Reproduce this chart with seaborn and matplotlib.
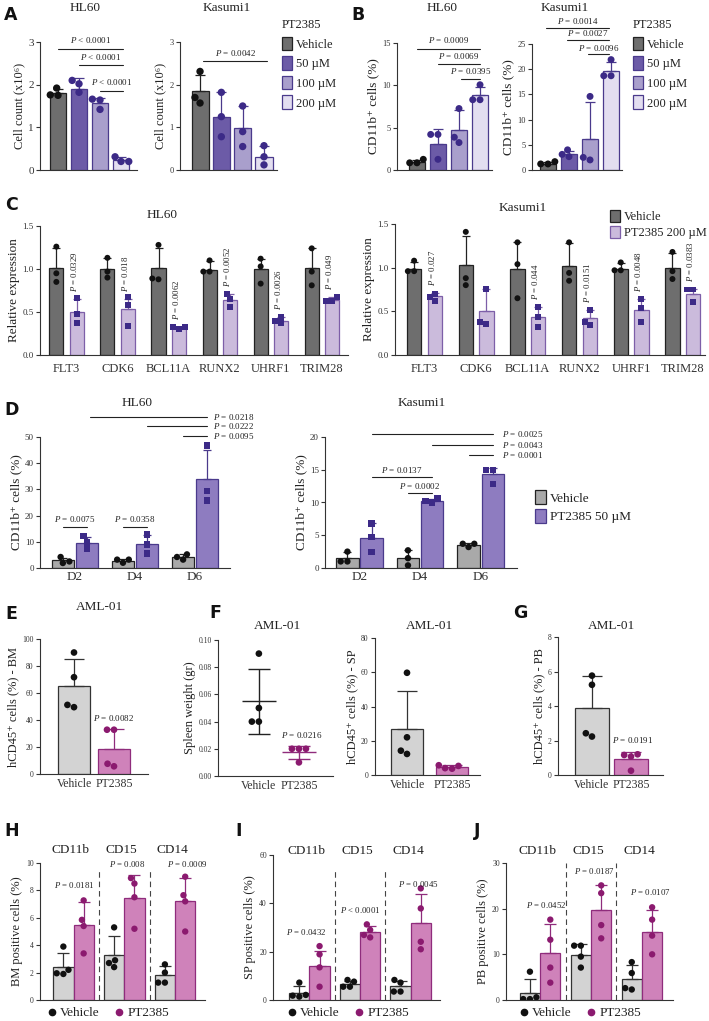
import matplotlib
matplotlib.use("Agg")
import matplotlib.pyplot as plt
import numpy as np
import pandas as pd
import seaborn as sns
from matplotlib.patches import Patch
from matplotlib.lines import Line2D

# ---------------- data ----------------
DOSES = ["Vehicle", "50 µM", "100 µM", "200 µM"]
A_HL60_MEAN = [1.80, 1.90, 1.57, 0.24]
A_HL60_SD = [0.09, 0.26, 0.12, 0.06]
A_HL60_PTS = [[1.92, 1.76, 1.75], [2.10, 2.02, 1.82], [1.66, 1.64, 1.42], [0.31, 0.20, 0.20]]
A_KAS_MEAN = [1.86, 1.25, 0.98, 0.30]
A_KAS_SD = [0.37, 0.57, 0.52, 0.27]
A_KAS_PTS = [[2.31, 1.70, 1.57], [1.82, 1.25, 0.78], [1.50, 0.90, 0.55], [0.57, 0.31, 0.12]]

B_HL60_MEAN = [0.95, 3.1, 4.7, 8.8]
B_HL60_SD = [0.2, 1.75, 2.4, 1.0]
B_HL60_PTS = [[1.26, 0.85, 0.85], [4.2, 4.2, 1.26], [7.26, 3.87, 3.24], [10.07, 8.3, 8.3]]
B_KAS_MEAN = [1.25, 3.2, 6.2, 19.7]
B_KAS_SD = [0.25, 0.65, 7.2, 1.7]
B_KAS_PTS = [[1.66, 1.2, 1.2], [4.0, 3.1, 2.65], [14.6, 2.0, 2.5], [21.9, 18.7, 18.7]]

GENES = ["FLT3", "CDK6", "BCL11A", "RUNX2", "UHRF1", "TRIM28"]
C_HUES = ["Vehicle", "PT2385 200 µM"]
C_HL60_VEH_MEAN = [1.01, 1.00, 1.01, 0.99, 1.00, 1.01]
C_HL60_VEH_SD = [0.23, 0.13, 0.23, 0.10, 0.12, 0.23]
C_HL60_VEH_PTS = [[1.26, 0.95, 0.85], [1.13, 0.90, 0.97], [1.28, 0.88, 0.89],
                  [1.10, 0.97, 0.97], [1.12, 1.03, 0.83], [1.24, 0.97, 0.81]]
C_HL60_PT_MEAN = [0.50, 0.53, 0.31, 0.64, 0.40, 0.64]
C_HL60_PT_SD = [0.15, 0.12, 0.02, 0.07, 0.04, 0.03]
C_HL60_PT_PTS = [[0.66, 0.48, 0.37], [0.67, 0.58, 0.34], [0.30, 0.32, 0.32],
                 [0.71, 0.65, 0.56], [0.44, 0.37, 0.39], [0.68, 0.63, 0.63]]
C_HL60_P = ["= 0.0329", "= 0.018", "= 0.0062", "= 0.0052", "= 0.0026", "= 0.049"]
C_KAS_VEH_MEAN = [0.99, 1.03, 0.99, 1.02, 0.98, 1.00]
C_KAS_VEH_SD = [0.07, 0.33, 0.30, 0.26, 0.07, 0.17]
C_KAS_VEH_PTS = [[1.08, 0.96, 0.96], [1.41, 0.88, 0.80], [1.29, 1.04, 0.65],
                 [1.29, 0.94, 0.85], [1.06, 0.97, 0.97], [1.18, 0.96, 0.87]]
C_KAS_PT_MEAN = [0.67, 0.50, 0.43, 0.42, 0.52, 0.70]
C_KAS_PT_SD = [0.04, 0.25, 0.12, 0.10, 0.12, 0.06]
C_KAS_PT_PTS = [[0.70, 0.62, 0.66], [0.76, 0.36, 0.38], [0.55, 0.43, 0.32],
                [0.52, 0.34, 0.38], [0.64, 0.54, 0.38], [0.75, 0.75, 0.61]]
C_KAS_P = ["= 0.027", "", "= 0.044", "= 0.0151", "= 0.0048", "= 0.0383"]

DAYS = ["D2", "D4", "D6"]
D_HUES = ["Vehicle", "PT2385 50 µM"]
D_HL60_VEH_MEAN = [3.0, 2.8, 4.3]
D_HL60_VEH_SD = [0.9, 0.6, 1.1]
D_HL60_VEH_PTS = [[4.2, 1.9, 2.5], [2.0, 3.2, 3.2], [5.2, 3.2, 4.2]]
D_HL60_PT_MEAN = [9.5, 9.0, 33.8]
D_HL60_PT_SD = [2.4, 3.7, 11.3]
D_HL60_PT_PTS = [[12.1, 10.0, 7.4], [12.8, 9.0, 5.5], [46.8, 29.3, 25.8]]
D_KAS_VEH_MEAN = [1.5, 1.5, 3.5]
D_KAS_VEH_SD = [0.9, 1.2, 0.25]
D_KAS_VEH_PTS = [[2.5, 1.0, 1.0], [2.7, 1.5, 0.4], [3.7, 3.7, 3.2]]
D_KAS_PT_MEAN = [4.6, 10.2, 14.3]
D_KAS_PT_SD = [2.2, 0.3, 1.0]
D_KAS_PT_PTS = [[6.8, 4.7, 2.4], [10.6, 10.0, 10.2], [15.0, 15.0, 12.8]]

ARMS = ["Vehicle", "PT2385"]
E_MEAN = [65.5, 18.7]
E_SD = [19.5, 15.0]
E_PTS = [[90.0, 71.7, 49.5, 51.2], [32.8, 32.8, 5.7, 7.6]]
F1_MEAN = [0.055, 0.0175]
F1_SD = [0.024, 0.0047]
F1_PTS = [[0.090, 0.050, 0.040, 0.040], [0.020, 0.020, 0.020, 0.010]]
F2_MEAN = [26.7, 4.6]
F2_SD = [22.1, 1.0]
F2_PTS = [[59.7, 22.0, 14.2, 12.3], [5.7, 5.3, 4.0, 3.7]]
G_MEAN = [3.88, 0.91]
G_SD = [1.84, 0.42]
G_PTS = [[5.76, 5.23, 2.23, 2.42], [1.20, 1.16, 1.07, 0.25]]

MARKERS = ["CD11b", "CD15", "CD14"]
H_VEH_MEAN = [2.4, 3.3, 1.83]
H_VEH_SD = [1.0, 1.4, 0.67]
H_VEH_PTS = [[3.9, 2.2, 1.9, 1.95], [5.3, 2.9, 2.4, 2.7], [2.6, 2.0, 1.27, 1.27]]
H_PT_MEAN = [5.5, 7.45, 7.2]
H_PT_SD = [1.65, 1.7, 1.7]
H_PT_PTS = [[7.27, 5.85, 5.4, 3.4], [8.9, 8.5, 7.5, 5.2], [9.0, 7.65, 7.2, 5.0]]
H_P = ["= 0.0181", "= 0.008", "= 0.0009"]
I_VEH_MEAN = [3.0, 6.5, 5.9]
I_VEH_SD = [2.8, 1.4, 2.0]
I_VEH_PTS = [[7.2, 1.8, 1.4, 2.1], [8.3, 7.6, 5.5, 5.5], [8.3, 7.2, 3.5, 3.5]]
I_PT_MEAN = [14.1, 28.3, 32.0]
I_PT_SD = [6.2, 2.3, 12.0]
I_PT_PTS = [[22.3, 18.9, 13.5, 5.5], [31.3, 29.0, 26.9, 25.9], [46.2, 37.9, 24.1, 21.0]]
I_P = ["= 0.0432", "< 0.0001", "= 0.0045"]
J_VEH_MEAN = [1.6, 9.9, 4.6]
J_VEH_SD = [3.1, 2.4, 3.1]
J_VEH_PTS = [[6.2, 0.2, 0.6, 0.2], [11.9, 11.9, 9.5, 7.1], [8.3, 5.9, 2.3, 2.6]]
J_PT_MEAN = [10.2, 19.6, 14.9]
J_PT_SD = [6.4, 5.5, 4.9]
J_PT_PTS = [[17.6, 13.2, 7.1, 3.8], [25.1, 23.4, 16.4, 13.5], [20.3, 17.6, 14.1, 10.0]]
J_P = ["= 0.0452", "= 0.0187", "= 0.0107"]

# ---------------- style ----------------
sns.set_theme(style="ticks")
plt.rcParams["font.family"] = ["Liberation Serif", "DejaVu Serif"]
plt.rcParams["mathtext.fontset"] = "custom"
plt.rcParams["mathtext.rm"] = "Liberation Serif"
plt.rcParams["mathtext.it"] = "Liberation Serif:italic"
plt.rcParams["axes.linewidth"] = 0.8
plt.rcParams["axes.edgecolor"] = "#333333"
plt.rcParams["text.color"] = "#222222"
plt.rcParams["axes.labelcolor"] = "#222222"
plt.rcParams["xtick.color"] = "#333333"
plt.rcParams["ytick.color"] = "#333333"

W, H = 709, 1021
fig = plt.figure(figsize=(W / 100, H / 100), dpi=100)

GRAY_D = "#6e6e6e"
PURP = ["#6c5ba7", "#a99fcc", "#e3def0"]
PEDGE = "#4a3a8c"
PPT = "#3c2a87"
C_PT = "#cbbbdc"
C_PTE = "#7d5fa8"
D_VEH = "#a9a9a9"
D_PT = "#8e7cc0"
L_VEH = "#d3d3d3"
PINK = "#cf82ba"
PINKE = "#8f2c7c"
PINKPT = "#8b1a6f"


def P(s):
    return r"$\mathit{P}$ " + s


def add_ax(x0, x1, ytop, ybot):
    return fig.add_axes([x0 / W, 1 - ybot / H, (x1 - x0) / W, (ybot - ytop) / H])


def style_ax(ax, ylim, yticks, xlim, ylabel, yfs=6.5, lfs=9, fmt=None):
    sns.despine(ax=ax)
    ax.set_ylim(*ylim)
    ax.set_yticks(yticks)
    if fmt:
        ax.set_yticklabels([fmt % t for t in yticks])
    ax.set_xlim(*xlim)
    ax.tick_params(axis="y", labelsize=yfs, length=3, width=0.8, pad=1.5)
    ax.tick_params(axis="x", length=0)
    ax.set_xlabel("")
    ax.set_ylabel(ylabel, fontsize=lfs, labelpad=2)


def bar_panel(ax, cats, means, sds, pts, fills, edges, ptcols, width=0.8, size=4.0,
              capsize=3.5, lw=0.9):
    df = pd.DataFrame({"cat": cats, "mean": means})
    sns.barplot(data=df, x="cat", y="mean", hue="cat", order=cats, hue_order=cats,
                palette=fills, width=width, errorbar=None, legend=False,
                saturation=1, linewidth=lw, ax=ax)
    bars = sorted(ax.patches, key=lambda p: p.get_x())
    for b, e, m, s in zip(bars, edges, means, sds):
        b.set_edgecolor(e)
        cx = b.get_x() + b.get_width() / 2
        ax.errorbar([cx], [m], yerr=[[0], [s]], fmt="none", ecolor=e, elinewidth=lw,
                    capsize=capsize, capthick=lw, zorder=2)
    rows = [(c, v) for c, vals in zip(cats, pts) for v in vals]
    pdf = pd.DataFrame(rows, columns=["cat", "val"])
    sns.swarmplot(data=pdf, x="cat", y="val", hue="cat", order=cats, hue_order=cats,
                  palette=ptcols, size=size, legend=False, ax=ax, zorder=3)


def grouped_panel(ax, groups, hues, means, sds, pts, fills, edges, ptcols, markers,
                  gap, size=4.0, capsize=3.0, lw=0.9):
    rows = [(g, h, means[hi][gi]) for hi, h in enumerate(hues) for gi, g in enumerate(groups)]
    df = pd.DataFrame(rows, columns=["g", "h", "m"])
    sns.barplot(data=df, x="g", y="m", hue="h", order=groups, hue_order=hues,
                palette=dict(zip(hues, fills)), width=0.8, gap=gap, dodge=True,
                errorbar=None, legend=False, saturation=1, linewidth=lw, ax=ax)
    bars = sorted(ax.patches, key=lambda p: p.get_x())
    k = 0
    for gi in range(len(groups)):
        for hi in range(len(hues)):
            b = bars[k]
            k += 1
            b.set_edgecolor(edges[hi])
            cx = b.get_x() + b.get_width() / 2
            ax.errorbar([cx], [means[hi][gi]], yerr=[[0], [sds[hi][gi]]], fmt="none",
                        ecolor=edges[hi], elinewidth=lw, capsize=capsize, capthick=lw,
                        zorder=2)
    for hi, h in enumerate(hues):
        r = [(g, h, v) for gi, g in enumerate(groups) for v in pts[hi][gi]]
        pdf = pd.DataFrame(r, columns=["g", "h", "v"])
        sns.swarmplot(data=pdf, x="g", y="v", hue="h", order=groups, hue_order=hues,
                      dodge=True, palette=dict(zip(hues, ptcols)), marker=markers[hi],
                      size=size, legend=False, ax=ax, zorder=3)


def sig(ax, x0, x1, y, text, ty, fs=6.5):
    ax.plot([x0, x1], [y, y], color="#222222", lw=0.8, clip_on=False)
    ax.text((x0 + x1) / 2, ty, text, ha="center", va="center", fontsize=fs, clip_on=False)


def sig_right(ax, x0, x1, y, text, tx, fs=6.5):
    ax.plot([x0, x1], [y, y], color="#222222", lw=0.8, clip_on=False)
    ax.text(tx, y, text, ha="left", va="center", fontsize=fs, clip_on=False)


def ftext(x, y, s, **kw):
    fig.text(x / W, 1 - y / H, s, **kw)


def patch_legend(ax, labels, fills, edges, x, y, title=None, fs=9, hl=0.8, hh=1.3, ls=0.25):
    handles = [Patch(facecolor=f, edgecolor=e, linewidth=0.9) for f, e in zip(fills, edges)]
    leg = ax.legend(handles, labels, loc="upper left", bbox_to_anchor=(x / W, 1 - y / H),
                    bbox_transform=fig.transFigure, frameon=False, fontsize=fs,
                    title=title, title_fontsize=fs, handlelength=hl, handleheight=hh,
                    labelspacing=ls, handletextpad=0.3, borderpad=0, borderaxespad=0)
    leg._legend_box.align = "left"
    return leg


def dot_legend(ax, x, y, fs=9.5):
    handles = [Line2D([], [], marker="o", ls="", color="#111111", ms=4.5),
               Line2D([], [], marker="o", ls="", color=PINKPT, ms=4.5)]
    ax.legend(handles, ARMS, loc="center left", bbox_to_anchor=(x / W, 1 - y / H),
              bbox_transform=fig.transFigure, frameon=False, fontsize=fs, ncol=2,
              handlelength=0.6, handletextpad=0.3, columnspacing=1.2, borderpad=0,
              borderaxespad=0)


LETTER = dict(fontfamily="DejaVu Sans", fontweight="bold", fontsize=12.5, ha="center",
              va="center", color="#111111")
TITLE = dict(fontsize=9.5, ha="center", va="center")

DOSE_FILLS = [GRAY_D] + PURP
DOSE_EDGES = ["#222222", PEDGE, PEDGE, PEDGE]
DOSE_PTS = ["#111111", PPT, PPT, PPT]

# ---------------- Panel A ----------------
axA1 = add_ax(40, 137, 42, 170)
bar_panel(axA1, DOSES, A_HL60_MEAN, A_HL60_SD, A_HL60_PTS, DOSE_FILLS, DOSE_EDGES, DOSE_PTS, size=5.3)
style_ax(axA1, (0, 3), [0, 1, 2, 3], (-0.857, 3.76), "Cell count (x10⁶)", yfs=8)
axA1.set_xticks([])
sig(axA1, 0, 3.1, 2.84, P("< 0.0001"), 3.05)
sig(axA1, 1, 3.1, 2.46, P("< 0.0001"), 2.65)
sig(axA1, 2, 3.1, 1.85, P("< 0.0001"), 2.06)

axA2 = add_ax(180, 277, 42, 170)
bar_panel(axA2, DOSES, A_KAS_MEAN, A_KAS_SD, A_KAS_PTS, DOSE_FILLS, DOSE_EDGES, DOSE_PTS, size=5.3)
style_ax(axA2, (0, 3), [0, 1, 2, 3], (-0.94, 3.61), "Cell count (x10⁶)", yfs=6)
axA2.set_xticks([])
sig(axA2, 0.15, 3.15, 2.55, P("= 0.0042"), 2.74)
patch_legend(axA2, DOSES, DOSE_FILLS, DOSE_EDGES, 282, 19, title="PT2385", ls=0.45)

ftext(85, 8, "HL60", **TITLE)
ftext(227, 8, "Kasumi1", **TITLE)
ftext(11, 15, "A", **LETTER)

# ---------------- Panel B ----------------
axB1 = add_ax(397, 492, 43, 170)
bar_panel(axB1, DOSES, B_HL60_MEAN, B_HL60_SD, B_HL60_PTS, DOSE_FILLS, DOSE_EDGES, DOSE_PTS, size=5.0)
style_ax(axB1, (0, 15), [0, 5, 10, 15], (-0.95, 3.57), "CD11b⁺ cells (%)", yfs=6, lfs=9.5)
axB1.set_xticks([])
sig(axB1, 0, 3, 14.3, P("= 0.0009"), 15.4)
sig(axB1, 1, 3, 12.5, P("= 0.0069"), 13.5)
sig(axB1, 2.1, 3, 10.7, P("= 0.0395"), 11.7)

axB2 = add_ax(532, 622, 44, 170)
bar_panel(axB2, DOSES, B_KAS_MEAN, B_KAS_SD, B_KAS_PTS, DOSE_FILLS, DOSE_EDGES, DOSE_PTS, size=5.0)
style_ax(axB2, (0, 25), [0, 5, 10, 15, 20, 25], (-0.76, 3.52), "CD11b⁺ cells (%)", yfs=6, lfs=9.5)
axB2.set_xticks([])
sig(axB2, -0.1, 2.9, 28.2, P("= 0.0014"), 29.6)
sig(axB2, 0.9, 2.9, 25.7, P("= 0.0027"), 27.2)
sig(axB2, 1.9, 2.9, 23.1, P("= 0.0096"), 24.3)
patch_legend(axB2, DOSES, DOSE_FILLS, DOSE_EDGES, 633, 19, title="PT2385", ls=0.45)

ftext(442, 8, "HL60", **TITLE)
ftext(565, 8, "Kasumi1", **TITLE)
ftext(358, 15, "B", **LETTER)

# ---------------- Panel C ----------------
C_FILLS = [GRAY_D, C_PT]
C_EDGES = ["#222222", C_PTE]
C_PTC = ["#111111", PPT]

axC1 = add_ax(40, 348, 226, 355)
grouped_panel(axC1, GENES, C_HUES, [C_HL60_VEH_MEAN, C_HL60_PT_MEAN], [C_HL60_VEH_SD, C_HL60_PT_SD],
              [C_HL60_VEH_PTS, C_HL60_PT_PTS], C_FILLS, C_EDGES, C_PTC, ["o", "s"], gap=0.31, size=4.3)
style_ax(axC1, (0, 1.5), [0, 0.5, 1.0, 1.5], (-0.52, 5.51), "Relative expression", yfs=6.5, lfs=9.5, fmt="%.1f")
axC1.tick_params(axis="x", labelsize=9, pad=6)
for gi, lab in enumerate(C_HL60_P):
    if lab:
        ax_top = C_HL60_PT_MEAN[gi] + C_HL60_PT_SD[gi] + 0.08
        axC1.text(gi + 0.14, ax_top, P(lab), rotation=90, ha="center", va="bottom", fontsize=6.3)

axC2 = add_ax(395, 705, 224, 355)
grouped_panel(axC2, GENES, C_HUES, [C_KAS_VEH_MEAN, C_KAS_PT_MEAN], [C_KAS_VEH_SD, C_KAS_PT_SD],
              [C_KAS_VEH_PTS, C_KAS_PT_PTS], C_FILLS, C_EDGES, C_PTC, ["o", "s"], gap=0.31, size=4.3)
style_ax(axC2, (0, 1.5), [0, 0.5, 1.0, 1.5], (-0.57, 5.43), "Relative expression", yfs=6.5, lfs=9.5, fmt="%.1f")
axC2.tick_params(axis="x", labelsize=9, pad=6)
for gi, lab in enumerate(C_KAS_P):
    if lab:
        ax_top = C_KAS_PT_MEAN[gi] + C_KAS_PT_SD[gi] + 0.08
        axC2.text(gi + 0.14, ax_top, P(lab), rotation=90, ha="center", va="bottom",
                  fontsize=6.3, clip_on=False)
patch_legend(axC2, C_HUES, C_FILLS, C_EDGES, 610, 210, fs=9, hl=0.8, hh=1.1, ls=0.2)

ftext(162, 215, "HL60", **TITLE)
ftext(523, 208, "Kasumi1", **TITLE)
ftext(11, 205, "C", **LETTER)

# ---------------- Panel D ----------------
D_FILLS = [D_VEH, D_PT]
D_EDGES = ["#222222", PEDGE]
D_PTC = ["#111111", PPT]

axD1 = add_ax(40, 230, 437, 568)
grouped_panel(axD1, DAYS, D_HUES, [D_HL60_VEH_MEAN, D_HL60_PT_MEAN], [D_HL60_VEH_SD, D_HL60_PT_SD],
              [D_HL60_VEH_PTS, D_HL60_PT_PTS], D_FILLS, D_EDGES, D_PTC, ["o", "s"], gap=0.08, size=4.6)
style_ax(axD1, (0, 50), [0, 10, 20, 30, 40, 50], (-0.58, 2.58), "CD11b⁺ cells (%)", yfs=6.5, lfs=9.5)
axD1.tick_params(axis="x", labelsize=9.5, pad=2)
sig(axD1, -0.2, 0.2, 15.6, P("= 0.0075"), 18.6)
sig(axD1, 0.8, 1.2, 15.6, P("= 0.0358"), 18.6)
sig_right(axD1, 0.25, 2.2, 57.6, P("= 0.0218"), 2.3)
sig_right(axD1, 1.2, 2.2, 54.1, P("= 0.0222"), 2.3)
sig_right(axD1, 1.8, 2.2, 50.3, P("= 0.0095"), 2.3)

axD2 = add_ax(325, 517, 437, 568)
grouped_panel(axD2, DAYS, D_HUES, [D_KAS_VEH_MEAN, D_KAS_PT_MEAN], [D_KAS_VEH_SD, D_KAS_PT_SD],
              [D_KAS_VEH_PTS, D_KAS_PT_PTS], D_FILLS, D_EDGES, D_PTC, ["o", "s"], gap=0.08, size=4.6)
style_ax(axD2, (0, 20), [0, 5, 10, 15, 20], (-0.57, 2.6), "CD11b⁺ cells (%)", yfs=6.5, lfs=9.5)
axD2.tick_params(axis="x", labelsize=9.5, pad=2)
sig(axD2, 0.2, 1.2, 13.9, P("= 0.0137"), 14.9)
sig(axD2, 0.8, 1.2, 11.45, P("= 0.0002"), 12.5)
sig_right(axD2, 0.2, 2.2, 20.4, P("= 0.0025"), 2.36)
sig_right(axD2, 1.2, 2.2, 18.8, P("= 0.0043"), 2.36)
sig_right(axD2, 1.8, 2.2, 17.2, P("= 0.0001"), 2.36)
patch_legend(axD2, D_HUES, D_FILLS, D_EDGES, 535, 490, fs=9.5, hl=0.8, hh=1.3, ls=0.3)

ftext(137, 403, "HL60", **TITLE)
ftext(422, 403, "Kasumi1", **TITLE)
ftext(12, 410, "D", **LETTER)

# ---------------- Panels E, F, G ----------------
ARM_FILLS = [L_VEH, PINK]
ARM_EDGES = ["#333333", PINKE]
ARM_PTS = ["#111111", PINKPT]

axE = add_ax(40, 148, 639, 774)
bar_panel(axE, ARMS, E_MEAN, E_SD, E_PTS, ARM_FILLS, ARM_EDGES, ARM_PTS, width=0.82, size=4.8, capsize=7)
style_ax(axE, (0, 100), [0, 20, 40, 60, 80, 100], (-0.85, 1.85), "hCD45⁺ cells (%) - BM", yfs=5.5, lfs=9)
axE.tick_params(axis="x", labelsize=8.5, pad=3)
axE.text(1, 41.4, P("= 0.0082"), ha="center", va="center", fontsize=6.5)

axF1 = add_ax(218, 333, 640, 776)
pdfF = pd.DataFrame([(c, v) for c, vals in zip(ARMS, F1_PTS) for v in vals], columns=["cat", "val"])
sns.swarmplot(data=pdfF, x="cat", y="val", hue="cat", order=ARMS, hue_order=ARMS,
              palette=ARM_PTS, size=4.8, legend=False, ax=axF1, zorder=3)
for i, (m, s, c) in enumerate(zip(F1_MEAN, F1_SD, ["#222222", PINKE])):
    axF1.hlines(m, i - 0.42, i + 0.42, color=c, lw=1.0, zorder=2)
    axF1.errorbar([i], [m], yerr=[s], fmt="none", ecolor=c, capsize=8, elinewidth=1.0,
                  capthick=1.0, zorder=2)
style_ax(axF1, (0, 0.10), [0, 0.02, 0.04, 0.06, 0.08, 0.10], (-1.02, 1.85), "Spleen weight (gr)",
         yfs=5.5, lfs=9, fmt="%.2f")
axF1.tick_params(axis="x", labelsize=8.5, pad=3)
axF1.text(1.08, 0.030, P("= 0.0216"), ha="center", va="center", fontsize=6.5)

axF2 = add_ax(375, 480, 638, 775)
bar_panel(axF2, ARMS, F2_MEAN, F2_SD, F2_PTS, ARM_FILLS, ARM_EDGES, ARM_PTS, width=0.7, size=4.8, capsize=7)
style_ax(axF2, (0, 80), [0, 20, 40, 60, 80], (-0.71, 1.62), "hCD45⁺ cells (%) - SP", yfs=5.5, lfs=9)
axF2.tick_params(axis="x", labelsize=8.5, pad=3)

axG = add_ax(558, 663, 637, 775)
bar_panel(axG, ARMS, G_MEAN, G_SD, G_PTS, ARM_FILLS, ARM_EDGES, ARM_PTS, width=0.85, size=4.8, capsize=7)
style_ax(axG, (0, 8), [0, 2, 4, 6, 8], (-0.87, 1.82), "hCD45⁺ cells (%) - PB", yfs=5.5, lfs=9)
axG.tick_params(axis="x", labelsize=8.5, pad=3)
axG.text(1.05, 2.03, P("= 0.0191"), ha="center", va="center", fontsize=6.5)

ftext(100, 607, "AML-01", **TITLE)
ftext(278, 626, "AML-01", **TITLE)
ftext(430, 626, "AML-01", **TITLE)
ftext(612, 626, "AML-01", **TITLE)
ftext(11, 614, "E", **LETTER)
ftext(215, 613, "F", **LETTER)
ftext(520, 613, "G", **LETTER)

# ---------------- Panels H, I, J ----------------
def marker_panel(box, vm, vs, vp, pm, ps, pp, ylim, yticks, xlim, ylabel, ptexts, tpos,
                 sepfrac, lab_y, leg_x):
    ax = add_ax(*box)
    grouped_panel(ax, MARKERS, ARMS, [vm, pm], [vs, ps], [vp, pp], ARM_FILLS, ARM_EDGES,
                  ARM_PTS, ["o", "o"], gap=0.0, size=4.6, capsize=4)
    style_ax(ax, ylim, yticks, xlim, ylabel, yfs=5.5, lfs=9)
    ax.set_xticks([])
    ax.vlines([0.5, 1.5], 0, ylim[1] * sepfrac, colors="#444444", linestyles=(0, (5, 3.5)), lw=0.8)
    ytop, ybot = box[2], box[3]
    ya = 1 + (ytop - lab_y) / (ybot - ytop)
    for gi, m in enumerate(MARKERS):
        ax.text(gi - 0.05, ya, m, transform=ax.get_xaxis_transform(), ha="center",
                va="center", fontsize=9.5)
    for txt, (tx, ty) in zip(ptexts, tpos):
        ax.text(tx, ty, P(txt), ha="center", va="center", fontsize=6.3, clip_on=False)
    dot_legend(ax, leg_x, 1013)
    return ax


marker_panel((40, 205, 863, 1000), H_VEH_MEAN, H_VEH_SD, H_VEH_PTS, H_PT_MEAN, H_PT_SD, H_PT_PTS,
             (0, 10), [0, 2, 4, 6, 8, 10], (-0.66, 2.59), "BM positive cells (%)", H_P,
             [(0.01, 8.4), (1.05, 9.9), (2.24, 9.9)], 0.96, 850, 48)
marker_panel((273, 440, 855, 1000), I_VEH_MEAN, I_VEH_SD, I_VEH_PTS, I_PT_MEAN, I_PT_SD, I_PT_PTS,
             (0, 60), [0, 20, 40, 60], (-0.72, 2.58), "SP positive cells (%)", I_P,
             [(-0.07, 28.3), (1.0, 37.2), (2.15, 47.9)], 0.9, 851, 288)
marker_panel((506, 673, 863, 1000), J_VEH_MEAN, J_VEH_SD, J_VEH_PTS, J_PT_MEAN, J_PT_SD, J_PT_PTS,
             (0, 30), [0, 10, 20, 30], (-0.67, 2.61), "PB positive cells (%)", J_P,
             [(0.12, 20.9), (1.06, 28.2), (2.16, 23.6)], 1.0, 851, 520)

ftext(12, 831, "H", **LETTER)
ftext(239, 831, "I", **LETTER)
ftext(477, 831, "J", **LETTER)

fig.savefig("out.png", dpi=100)
